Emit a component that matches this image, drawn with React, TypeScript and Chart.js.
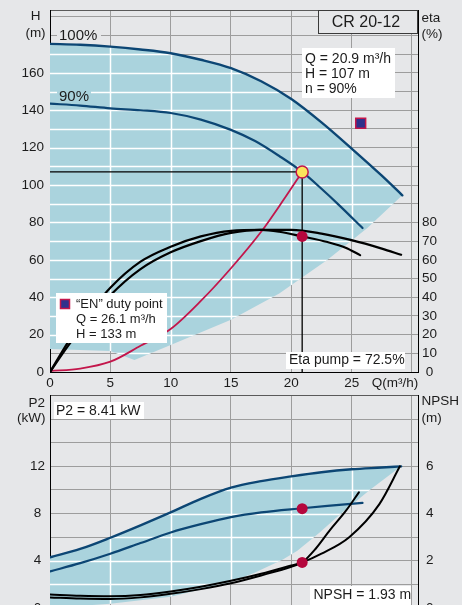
import React, { useEffect, useRef } from 'react';
import { Chart, registerables } from 'chart.js';

Chart.register(...registerables);

const FONT = '"Liberation Sans", Arial, Helvetica, sans-serif';

// ---------- axes ----------
const Q_MAX = 30.5;
const H_MAX = 193.6;
const P2_MAX = 18;
const NPSH_MAX = 9;

const Q_GRID = [0, 5, 10, 15, 20, 25, 30];
const Q_LABELS = [0, 5, 10, 15, 20, 25];
const H_GRID = [0, 10, 20, 30, 40, 50, 60, 70, 80, 90, 100, 110, 120, 130, 140, 150, 160, 170, 180, 190];
const H_LABELS = [0, 20, 40, 60, 80, 100, 120, 140, 160];
const ETA_LABELS = [0, 10, 20, 30, 40, 50, 60, 70, 80];
const P2_GRID = [0, 2, 4, 6, 8, 10, 12, 14, 16, 18];
const P2_LABELS = [0, 4, 8, 12];
const NPSH_LABELS = [0, 2, 4, 6];

// ---------- head curves (m) ----------
const H100_Q = [0, 2.5, 5, 7.5, 10, 12.5, 15, 17.5, 20, 22.5, 25, 27.5, 29.2];
const H100_H = [175.5, 175, 174, 172.5, 170.5, 167, 162.5, 155.5, 146, 133.5, 119.5, 105, 94.5];
const H90_Q = [0, 2.5, 5, 7.5, 10, 12.5, 15, 17, 19, 20.9, 22.5, 24, 25.9];
const H90_H = [143.5, 142.5, 141, 140, 138.5, 135, 129.5, 123.5, 115.5, 107, 98, 89, 77];
// lower/right edge of the operating range (right to left)
const TOPLOW_Q = [26.3, 23, 19, 15, 10, 7, 5, 2.5, 0];
const TOPLOW_H = [77, 60, 42, 28, 14.5, 6.4, 11.2, 11.8, 12.3];

// system curve
const SYS_Q = [0, 2.5, 5, 7.5, 10, 12.5, 15, 17.5, 19.4, 20.9];
const SYS_H = [0.5, 1.8, 5.5, 14, 23, 38, 55.5, 75, 92.5, 107];

// efficiency (%)
const ETA100_Q = [0, 1.5, 2.5, 5, 7.5, 10, 12.5, 15, 17.5, 20, 22.5, 25, 27.5, 29.1];
const ETA100 = [0, 14, 22, 41, 55, 64, 70, 74.4, 76, 76, 74, 70.5, 66, 62.7];
const ETA90_Q = [0, 1.5, 2.5, 5, 7.5, 10, 12.5, 15, 17.5, 19, 20.9, 23, 24.5, 25.7];
const ETA90 = [0, 16, 25, 45, 59, 67, 72.5, 75.5, 76, 75, 72.5, 69.5, 66.5, 62.5];

// duty point
const DUTY_Q = 20.9;
const DUTY_H = 107;
const DUTY_ETA = 72.5;
const DUTY_P2 = 8.41;
const DUTY_NPSH = 1.93;
const EN_Q = 25.75;
const EN_H = 133;

// ---------- power P2 (kW) ----------
const P2_100_Q = [0, 2.5, 5, 7.5, 10, 12.5, 15, 17.5, 20, 22.5, 25, 27.5, 29.1];
const P2_100 = [4.3, 5.0, 5.95, 7.0, 8.1, 9.25, 10.2, 10.75, 11.15, 11.5, 11.75, 11.9, 12.0];
const P2_90_Q = [0, 2.5, 5, 7.5, 10, 12.5, 15, 17.5, 20.9, 23, 25.9];
const P2_90 = [3.1, 3.8, 4.6, 5.5, 6.4, 7.1, 7.7, 8.1, 8.45, 8.65, 8.9];
const BOTLOW_Q = [26.5, 24, 22.35, 20.5, 19.3, 17, 15, 10, 5, 0];
const BOTLOW_P2 = [10, 7.9, 6.4, 4.85, 4.1, 3.0, 2.2, 0.95, 0.37, 0];

// ---------- NPSH (m) ----------
const NPSH100_Q = [0, 2.5, 5, 7.5, 10, 12.5, 15, 17.5, 20, 20.9, 22.5, 24.8, 27.3, 29];
const NPSH100 = [0.57, 0.52, 0.5, 0.55, 0.7, 0.9, 1.15, 1.45, 1.8, 1.93, 2.3, 3.0, 4.4, 6.0];
const NPSH90_Q = [0, 2.5, 5, 7.5, 10, 12.5, 15, 17.5, 20, 20.9, 22, 23.2, 24.5, 25.6];
const NPSH90 = [0.45, 0.4, 0.38, 0.45, 0.6, 0.8, 1.05, 1.38, 1.75, 1.93, 2.5, 3.3, 4.1, 4.9];

// ---------- styles ----------
const BG = '#e6e7e9';
const GRID = '#9d9d9d';
const FRAME_TOP = '#5a5a5a';
const BLUE_FILL = '#aad3dd';
const DARK_BLUE = '#0c4674';
const RED = '#c3164b';
const RED_DOT = '#b5073d';
const YELLOW = '#fbe45a';
const EN_BLUE = '#2f318c';
const TXT = '#1c1c1c';
const TICK_FONT = { family: FONT, size: 13.5 };

type Pt = { x: number; y: number };
const zip = (xs: number[], ys: number[]): Pt[] => xs.map((x, i) => ({ x, y: ys[i] }));

function box(ctx: CanvasRenderingContext2D, x: number, y: number, w: number, h: number, fill: string, stroke?: string) {
  ctx.fillStyle = fill;
  ctx.fillRect(x, y, w, h);
  if (stroke) {
    ctx.strokeStyle = stroke;
    ctx.lineWidth = 1;
    ctx.strokeRect(x + 0.5, y + 0.5, w - 1, h - 1);
  }
}
function text(ctx: CanvasRenderingContext2D, s: string, x: number, y: number, size: number, align: CanvasTextAlign = 'left') {
  ctx.font = `${size}px ${FONT}`;
  ctx.fillStyle = TXT;
  ctx.textAlign = align;
  ctx.textBaseline = 'middle';
  ctx.fillText(s, x, y);
}

// white grid inside the blue operating range + labels placed right on it
const regionPlugin = {
  id: 'regionGrid',
  afterDatasetDraw(chart: any, args: any) {
    const ds = chart.data.datasets[args.index];
    if (!ds.isRegion) return;
    const ctx: CanvasRenderingContext2D = chart.ctx;
    const area = chart.chartArea;
    const xs = chart.scales.x;
    const ys = chart.scales.y;
    ctx.save();
    ctx.beginPath();
    args.meta.data.forEach((p: any, i: number) => (i ? ctx.lineTo(p.x, p.y) : ctx.moveTo(p.x, p.y)));
    ctx.closePath();
    ctx.clip();
    ctx.strokeStyle = '#ffffff';
    ctx.lineWidth = 1.5;
    ctx.beginPath();
    for (const t of xs.ticks) {
      if (t.value <= xs.min || t.value >= xs.max) continue;
      const px = Math.round(xs.getPixelForValue(t.value)) + 0.5;
      ctx.moveTo(px, area.top);
      ctx.lineTo(px, area.bottom);
    }
    for (const t of ys.ticks) {
      if (t.value <= ys.min || t.value >= ys.max) continue;
      const py = Math.round(ys.getPixelForValue(t.value)) + 0.5;
      ctx.moveTo(area.left, py);
      ctx.lineTo(area.right, py);
    }
    ctx.stroke();
    ctx.restore();
    if (ds.underlay) ds.underlay(ctx);
  },
};

const baseOptions = (padTop: number) => ({
  responsive: false,
  animation: false,
  devicePixelRatio: 1,
  events: [],
  layout: { padding: { top: padTop, left: 0, right: 0, bottom: 0 } },
  plugins: { legend: { display: false }, tooltip: { enabled: false } },
  elements: {
    point: { radius: 0, hoverRadius: 0 },
    line: { borderJoinStyle: 'round', borderCapStyle: 'round' },
  },
});

const curve = (data: Pt[], color: string, width: number, order: number, yAxisID = 'y') => ({
  data,
  yAxisID,
  borderColor: color,
  borderWidth: width,
  pointRadius: 0,
  fill: false,
  cubicInterpolationMode: 'monotone',
  order,
});

const marker = (p: Pt, yAxisID: string, extra: any) => ({
  data: [p],
  yAxisID,
  showLine: false,
  pointRadius: 5.5,
  pointBorderWidth: 0,
  order: 0,
  ...extra,
});

function topConfig(): any {
  return {
    type: 'line',
    data: {
      datasets: [
        {
          data: [...zip(H100_Q, H100_H), ...zip(TOPLOW_Q, TOPLOW_H)],
          yAxisID: 'y',
          backgroundColor: BLUE_FILL,
          borderWidth: 0,
          pointRadius: 0,
          fill: 'shape',
          tension: 0,
          order: 10,
          isRegion: true,
          underlay: (ctx: CanvasRenderingContext2D) => {
            box(ctx, 57, 27, 44, 16, BG);
            text(ctx, '100%', 59, 35.5, 15);
            box(ctx, 57, 89, 34, 13, BLUE_FILL);
            text(ctx, '90%', 59, 96.5, 15);
          },
        },
        { data: [{ x: 0, y: DUTY_H }, { x: DUTY_Q, y: DUTY_H }], borderColor: '#000', borderWidth: 1.3, tension: 0, order: 8 },
        { data: [{ x: DUTY_Q, y: DUTY_H }, { x: DUTY_Q, y: 0 }], borderColor: '#000', borderWidth: 1.3, tension: 0, order: 8 },
        curve(zip(SYS_Q, SYS_H), RED, 1.8, 6),
        curve(zip(H100_Q, H100_H), DARK_BLUE, 2.4, 5),
        curve(zip(H90_Q, H90_H), DARK_BLUE, 2.2, 5),
        curve(zip(ETA100_Q, ETA100), '#000', 2.2, 4, 'yEta'),
        curve(zip(ETA90_Q, ETA90), '#000', 2.2, 4, 'yEta'),
        marker({ x: DUTY_Q, y: DUTY_ETA }, 'yEta', { pointBackgroundColor: RED_DOT, pointRadius: 5.5 }),
        marker({ x: DUTY_Q, y: DUTY_H }, 'y', { pointBackgroundColor: YELLOW, pointBorderColor: RED, pointBorderWidth: 1.5, pointRadius: 6 }),
        marker({ x: EN_Q, y: EN_H }, 'y', { pointStyle: 'rect', pointBackgroundColor: EN_BLUE, pointBorderColor: RED, pointBorderWidth: 1.5, pointRadius: 7 }),
      ],
    },
    options: {
      ...baseOptions(10),
      scales: {
        x: {
          type: 'linear', position: 'bottom', min: 0, max: Q_MAX,
          afterBuildTicks: (s: any) => { s.ticks = Q_GRID.map((v) => ({ value: v })); },
          afterFit: (s: any) => { s.height = 20; },
          ticks: { autoSkip: false, maxRotation: 0, padding: 3, font: TICK_FONT, color: TXT, callback: (v: number) => (Q_LABELS.includes(v) ? String(v) : '') },
          grid: { drawTicks: false, lineWidth: 1, color: (c: any) => (c.tick && c.tick.value === 0 ? 'rgba(0,0,0,0)' : GRID) },
          border: { display: true, color: '#000', width: 1 },
        },
        y: {
          type: 'linear', position: 'left', min: 0, max: H_MAX,
          afterBuildTicks: (s: any) => { s.ticks = [...H_GRID, H_MAX].map((v) => ({ value: v })); },
          afterFit: (s: any) => { s.width = 50; s.paddingTop = 0; s.paddingBottom = 0; },
          ticks: { autoSkip: false, padding: 6, font: TICK_FONT, color: TXT, callback: (v: number) => (H_LABELS.includes(v) ? String(v) : '') },
          grid: { drawTicks: false, lineWidth: 1, color: (c: any) => (!c.tick || c.tick.value === 0 ? 'rgba(0,0,0,0)' : c.tick.value === H_MAX ? FRAME_TOP : GRID) },
          border: { display: true, color: '#000', width: 1 },
        },
        yEta: {
          type: 'linear', position: 'right', min: 0, max: H_MAX,
          afterBuildTicks: (s: any) => { s.ticks = ETA_LABELS.map((v) => ({ value: v })); },
          afterFit: (s: any) => { s.width = 44; s.paddingTop = 0; s.paddingBottom = 0; },
          ticks: { autoSkip: false, padding: 4, crossAlign: 'center', font: TICK_FONT, color: TXT },
          grid: { display: false, drawTicks: false },
          border: { display: true, color: '#000', width: 1 },
        },
      },
    },
    plugins: [
      regionPlugin,
      {
        id: 'topTexts',
        afterDraw(chart: any) {
          const ctx: CanvasRenderingContext2D = chart.ctx;
          ctx.save();
          text(ctx, 'H', 35.5, 16, 13.5, 'center');
          text(ctx, '(m)', 35.5, 33.5, 13.5, 'center');
          text(ctx, 'eta', 421.5, 18, 13.5);
          text(ctx, '(%)', 421.5, 34, 13.5);
          text(ctx, 'Q(m³/h)', 395, 383, 13.5, 'center');
          box(ctx, 318, 10, 100, 24, BG, '#3a3a3a');
          text(ctx, 'CR 20-12', 366, 23, 16, 'center');
          box(ctx, 302, 48, 93, 50, '#ffffff');
          text(ctx, 'Q = 20.9 m³/h', 305, 59.5, 14);
          text(ctx, 'H = 107 m', 305, 74.5, 14);
          text(ctx, 'n = 90%', 305, 89.5, 14);
          box(ctx, 56, 293, 111, 50, '#ffffff');
          ctx.fillStyle = EN_BLUE;
          ctx.fillRect(60.5, 299.5, 9, 9);
          ctx.strokeStyle = RED;
          ctx.lineWidth = 1.5;
          ctx.strokeRect(60.5, 299.5, 9, 9);
          text(ctx, '“EN” duty point', 76, 304.5, 13);
          text(ctx, 'Q = 26.1 m³/h', 76, 319.5, 13);
          text(ctx, 'H = 133 m', 76, 334.5, 13);
          box(ctx, 286, 352, 119, 17, '#ffffff');
          text(ctx, 'Eta pump = 72.5%', 289, 360.5, 14);
          ctx.restore();
        },
      },
    ],
  };
}

function bottomConfig(): any {
  return {
    type: 'line',
    data: {
      datasets: [
        {
          data: [...zip(P2_100_Q, P2_100), ...zip(BOTLOW_Q, BOTLOW_P2)],
          yAxisID: 'y',
          backgroundColor: BLUE_FILL,
          borderWidth: 0,
          pointRadius: 0,
          fill: 'shape',
          tension: 0,
          order: 10,
          isRegion: true,
        },
        curve(zip(P2_100_Q, P2_100), DARK_BLUE, 2.4, 5),
        curve(zip(P2_90_Q, P2_90), DARK_BLUE, 2.2, 5),
        curve(zip(NPSH100_Q, NPSH100), '#000', 2, 4, 'yN'),
        curve(zip(NPSH90_Q, NPSH90), '#000', 2, 4, 'yN'),
        marker({ x: DUTY_Q, y: DUTY_P2 }, 'y', { pointBackgroundColor: RED_DOT }),
        marker({ x: DUTY_Q, y: DUTY_NPSH }, 'yN', { pointBackgroundColor: RED_DOT }),
      ],
    },
    options: {
      ...baseOptions(5),
      scales: {
        x: {
          type: 'linear', position: 'bottom', min: 0, max: Q_MAX,
          afterBuildTicks: (s: any) => { s.ticks = Q_GRID.map((v) => ({ value: v })); },
          afterFit: (s: any) => { s.height = 12; },
          ticks: { display: false },
          grid: { drawTicks: false, lineWidth: 1, color: (c: any) => (c.tick && c.tick.value === 0 ? 'rgba(0,0,0,0)' : GRID) },
          border: { display: true, color: '#000', width: 1 },
        },
        y: {
          type: 'linear', position: 'left', min: 0, max: P2_MAX,
          afterBuildTicks: (s: any) => { s.ticks = P2_GRID.map((v) => ({ value: v })); },
          afterFit: (s: any) => { s.width = 50; s.paddingTop = 0; s.paddingBottom = 0; },
          ticks: { autoSkip: false, padding: 5, crossAlign: 'center', font: TICK_FONT, color: TXT, callback: (v: number) => (P2_LABELS.includes(v) ? String(v) : '') },
          grid: { drawTicks: false, lineWidth: 1, color: (c: any) => (!c.tick || c.tick.value === 0 ? 'rgba(0,0,0,0)' : c.tick.value === P2_MAX ? FRAME_TOP : GRID) },
          border: { display: true, color: '#000', width: 1 },
        },
        yN: {
          type: 'linear', position: 'right', min: 0, max: NPSH_MAX,
          afterBuildTicks: (s: any) => { s.ticks = NPSH_LABELS.map((v) => ({ value: v })); },
          afterFit: (s: any) => { s.width = 44; s.paddingTop = 0; s.paddingBottom = 0; },
          ticks: { autoSkip: false, padding: 8, font: TICK_FONT, color: TXT },
          grid: { display: false, drawTicks: false },
          border: { display: true, color: '#000', width: 1 },
        },
      },
    },
    plugins: [
      regionPlugin,
      {
        id: 'bottomTexts',
        afterDraw(chart: any) {
          const ctx: CanvasRenderingContext2D = chart.ctx;
          ctx.save();
          text(ctx, 'P2', 45, 13.3, 13.5, 'right');
          text(ctx, '(kW)', 45.5, 28.5, 13.5, 'right');
          text(ctx, 'NPSH', 421.5, 11.7, 13.5);
          text(ctx, '(m)', 421.5, 28.3, 13.5);
          box(ctx, 54, 12, 90, 17, '#ffffff');
          text(ctx, 'P2 = 8.41 kW', 56, 21, 14);
          box(ctx, 310, 196, 101, 30, '#ffffff');
          text(ctx, 'NPSH = 1.93 m', 313.5, 205.5, 14);
          ctx.restore();
        },
      },
    ],
  };
}

export default function App() {
  const topRef = useRef<HTMLCanvasElement>(null);
  const botRef = useRef<HTMLCanvasElement>(null);
  useEffect(() => {
    const c1 = new Chart(topRef.current as HTMLCanvasElement, topConfig());
    const c2 = new Chart(botRef.current as HTMLCanvasElement, bottomConfig());
    return () => {
      c1.destroy();
      c2.destroy();
    };
  }, []);
  return (
    <div style={{ position: 'absolute', left: 0, top: 0, width: 462, height: 605, overflow: 'hidden', background: BG }}>
      <canvas ref={topRef} width={462} height={392} style={{ position: 'absolute', left: 0, top: 0 }} />
      <canvas ref={botRef} width={462} height={230} style={{ position: 'absolute', left: 0, top: 390 }} />
    </div>
  );
}
